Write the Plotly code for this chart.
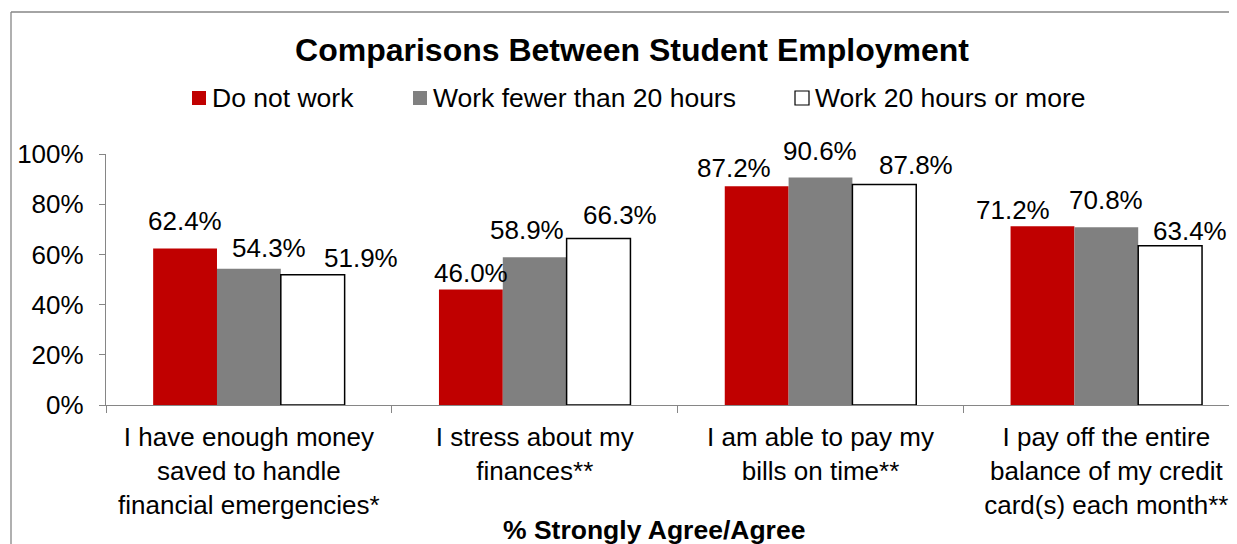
import plotly.graph_objects as go

# ---- data ----
categories = [
    "I have enough money<br>saved to handle<br>financial emergencies*",
    "I stress about my<br>finances**",
    "I am able to pay my<br>bills on time**",
    "I pay off the entire<br>balance of my credit<br>card(s) each month**",
]
series_names = ["Do not work", "Work fewer than 20 hours", "Work 20 hours or more"]
do_not_work = [62.4, 46.0, 87.2, 71.2]
work_lt20 = [54.3, 58.9, 90.6, 70.8]
work_20plus = [51.9, 66.3, 87.8, 63.4]
y_ticks = [0, 20, 40, 60, 80, 100]
title_text = "Comparisons Between Student Employment"
x_title_text = "% Strongly Agree/Agree"

# ---- style ----
FONT = "Liberation Sans, Arial, sans-serif"
colors = ["#C00000", "#808080", "#FFFFFF"]
line_colors = ["#C00000", "#808080", "#000000"]
line_widths = [0, 0, 1.5]
AXIS_GREY = "#868686"
BARGAP = 0.33
PAGE_OFF = 8                      # default page body margin
W, H = 1237 - PAGE_OFF, 544 - PAGE_OFF
ML, MR, MT, MB = 106 - PAGE_OFF, 0, 154 - PAGE_OFF, 139
PX_PER_CAT = 285.8
plot_w = W - ML - MR
plot_h = H - MT - MB
x_max = -0.5 + plot_w / PX_PER_CAT

# label pixel offsets (dx right, dy up from bar top to text center), Excel-style placement
label_offsets = [
    [(0, 27), (20, 21), (48, 17)],
    [(0, 17), (-8, 27), (21, 24)],
    [(-23, 18), (-1, 27), (32, 20)],
    [(-29, 16), (0, 27), (20, 15)],
]

all_series = [do_not_work, work_lt20, work_20plus]
x_idx = list(range(len(categories)))

fig = go.Figure()
for name, vals, c, lc, lw in zip(series_names, all_series, colors, line_colors, line_widths):
    fig.add_trace(go.Bar(
        x=x_idx, y=vals, name=name,
        marker=dict(color=c, line=dict(color=lc, width=lw)),
        showlegend=False, hoverinfo="skip",
    ))

bar_w = (1 - BARGAP) / len(all_series)
annotations = []
for j, vals in enumerate(all_series):
    for i, v in enumerate(vals):
        dx, dy = label_offsets[i][j]
        annotations.append(dict(
            x=i + (j - 1) * bar_w, y=v, xref="x", yref="y",
            text=f"{v:.1f}%", showarrow=False,
            xanchor="center", yanchor="middle",
            xshift=dx, yshift=dy,
            font=dict(family=FONT, size=26, color="#000000"),
        ))


# page pixel -> paper coords
def px_x(p):
    return (p - PAGE_OFF - ML) / plot_w


def px_y(p):
    return (MT + plot_h - (p - PAGE_OFF)) / plot_h


legend_icon_left = [192, 413, 795]
legend_y = 98
icon = 14
shapes = []
for name, c, lc, lx in zip(series_names, colors, line_colors, legend_icon_left):
    shapes.append(dict(
        type="rect", xref="paper", yref="paper",
        x0=px_x(lx), x1=px_x(lx + icon),
        y0=px_y(legend_y + icon / 2), y1=px_y(legend_y - icon / 2),
        fillcolor=c, line=dict(color=lc, width=1.2 if lc == "#000000" else 0),
    ))
    annotations.append(dict(
        x=px_x(lx + icon + 4), y=px_y(legend_y), xref="paper", yref="paper",
        text=name, showarrow=False, xanchor="left", yanchor="middle",
        font=dict(family=FONT, size=26.5, color="#000000"),
    ))

# x axis title
annotations.append(dict(
    x=px_x(654), y=px_y(530), xref="paper", yref="paper",
    text=f"<b>{x_title_text}</b>", showarrow=False,
    xanchor="center", yanchor="middle",
    font=dict(family=FONT, size=26.5, color="#000000"),
))

# chart outer border (left and top edges visible in the crop)
shapes.append(dict(
    type="line", xref="paper", yref="paper",
    x0=px_x(11), x1=px_x(11), y0=px_y(600), y1=px_y(12),
    line=dict(color=AXIS_GREY, width=1.3), layer="below",
))
shapes.append(dict(
    type="line", xref="paper", yref="paper",
    x0=px_x(11), x1=px_x(1300), y0=px_y(12), y1=px_y(12),
    line=dict(color=AXIS_GREY, width=1.3), layer="below",
))

fig.update_layout(
    width=W, height=H,
    margin=dict(l=ML, r=MR, t=MT, b=MB, pad=0),
    paper_bgcolor="#FFFFFF", plot_bgcolor="#FFFFFF",
    barmode="group", bargap=BARGAP, bargroupgap=0,
    title=dict(
        text=f"<b>{title_text}</b>", x=(632 - PAGE_OFF) / W, xanchor="center",
        y=1 - (50 - PAGE_OFF) / H, yanchor="middle", yref="container",
        font=dict(family=FONT, size=32, color="#000000"),
    ),
    showlegend=False,
    annotations=annotations,
    shapes=shapes,
    font=dict(family=FONT, color="#000000"),
)

fig.update_xaxes(
    range=[-0.5, x_max],
    tickmode="array", tickvals=x_idx, ticktext=categories,
    ticks="", showgrid=False, zeroline=False,
    showline=True, linecolor=AXIS_GREY, linewidth=1.3,
    tickfont=dict(family=FONT, size=26, color="#000000"),
    ticklabelstandoff=9,
    minor=dict(ticks="outside", tick0=-0.5, dtick=1, ticklen=7,
               tickcolor=AXIS_GREY, tickwidth=1.3, showgrid=False),
    fixedrange=True,
)
fig.update_yaxes(
    range=[0, 100],
    tickmode="array", tickvals=y_ticks, ticktext=[f"{t}%" for t in y_ticks],
    ticks="outside", ticklen=6, tickcolor=AXIS_GREY, tickwidth=1.3,
    showgrid=False, zeroline=False,
    showline=True, linecolor=AXIS_GREY, linewidth=1.3,
    tickfont=dict(family=FONT, size=26, color="#000000"),
    ticklabelstandoff=10,
    fixedrange=True,
)

fig.write_html("out.html")
